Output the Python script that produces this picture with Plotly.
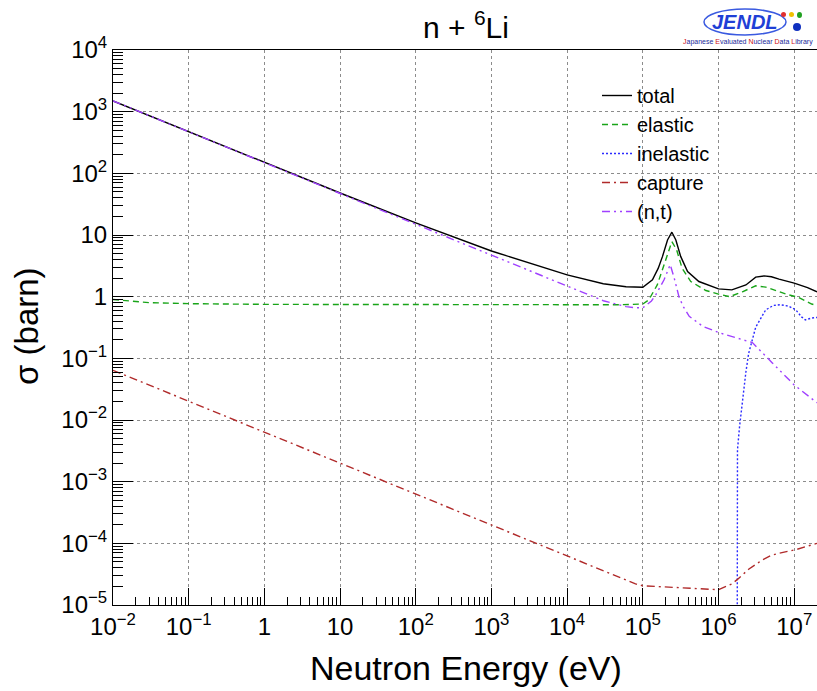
import plotly.graph_objects as go

# ---------------- data ----------------
total_E = [1e-2, 1e-1, 1, 10, 100, 1e3, 1e4, 3e4, 6e4, 1e5, 1.34e5, 1.6e5, 1.82e5,
           2.12e5, 2.42e5, 2.73e5, 3.16e5, 3.9e5, 5.5e5, 1e6, 1.5e6, 2.3e6, 3.1e6,
           4e6, 5e6, 6.3e6, 1e7, 1.5e7, 2e7]
total_xs = [1496, 474, 150, 48, 15.7, 5.5, 2.25, 1.62, 1.45, 1.42, 1.87, 2.9, 4.5,
            8.3, 11.1, 8.3, 4.5, 2.55, 1.76, 1.34, 1.29, 1.55, 2.07, 2.17, 2.1,
            1.92, 1.66, 1.4, 1.2]

elastic_E = [1e-2, 3e-2, 1e-1, 1, 1e2, 1e4, 5e4, 1e5, 1.2e5, 1.55e5, 1.9e5, 2.24e5,
             2.42e5, 2.79e5, 3.3e5, 4.3e5, 6.8e5, 1e6, 1.4e6, 2.07e6, 3.1e6, 4.2e6,
             7.8e6, 1.15e7, 1.7e7, 2e7]
elastic_xs = [0.9, 0.8, 0.77, 0.75, 0.745, 0.74, 0.74, 0.76, 0.89, 1.55, 3.3, 6.1,
              7.8, 5.8, 2.9, 1.76, 1.26, 1.1, 1.0, 1.2, 1.5, 1.43, 1.1, 0.97, 0.76, 0.72]

inelastic_E = [1.76e6, 1.78e6, 1.9e6, 2.07e6, 2.3e6, 2.5e6, 3.1e6, 4.2e6, 5.3e6,
               6.6e6, 8.5e6, 1.05e7, 1.25e7, 1.4e7, 1.7e7, 2e7]
inelastic_xs = [1e-7, 3.3e-3, 8e-3, 0.021, 0.06, 0.12, 0.32, 0.61, 0.72, 0.74, 0.7,
                0.61, 0.47, 0.42, 0.45, 0.46]

capture_E = [1e-2, 1e4, 8e4, 1e5, 2e5, 5e5, 1e6, 1.5e6, 1.78e6, 2.5e6, 3.8e6, 5e6,
             6.3e6, 1.05e7, 2e7]
capture_xs = [0.064, 6.3e-5, 2.2e-5, 2.05e-5, 1.95e-5, 1.85e-5, 1.77e-5, 2.2e-5,
              2.6e-5, 3.8e-5, 5.4e-5, 6.4e-5, 6.9e-5, 7.9e-5, 1.0e-4]

nt_E = [1e-2, 1e-1, 1, 10, 100, 1e3, 1e4, 3e4, 6e4, 8e4, 1e5, 1.3e5, 1.48e5, 1.9e5,
        2.3e5, 2.6e5, 3.0e5, 3.4e5, 4.1e5, 6.2e5, 1.02e6, 1.87e6, 2.8e6, 5.1e6,
        1e7, 2e7]
nt_xs = [1495, 473, 149.5, 47.3, 14.95, 4.73, 1.5, 0.86, 0.69, 0.66, 0.66, 0.85,
         1.07, 1.86, 3.3, 2.0, 1.0, 0.7, 0.48, 0.33, 0.26, 0.21, 0.18, 0.085,
         0.037, 0.019]

x_tick_vals = [1e-2, 1e-1, 1, 10, 1e2, 1e3, 1e4, 1e5, 1e6, 1e7]
x_tick_text = ["10<sup>\u22122</sup>", "10<sup>\u22121</sup>", "1", "10",
               "10<sup>2</sup>", "10<sup>3</sup>", "10<sup>4</sup>",
               "10<sup>5</sup>", "10<sup>6</sup>", "10<sup>7</sup>"]
y_tick_vals = [1e-5, 1e-4, 1e-3, 1e-2, 1e-1, 1, 10, 1e2, 1e3, 1e4]
y_tick_text = ["10<sup>\u22125</sup>", "10<sup>\u22124</sup>", "10<sup>\u22123</sup>",
               "10<sup>\u22122</sup>", "10<sup>\u22121</sup>", "1", "10",
               "10<sup>2</sup>", "10<sup>3</sup>", "10<sup>4</sup>"]

# ---------------- figure ----------------
FONT = "Liberation Sans, Arial, Helvetica, sans-serif"
FW, FH = 817, 691
L, T, W, H = 113, 50, 704, 555           # plot area in pixels


def px(x):
    return (x - L) / W


def py(y):
    return (T + H - y) / H


fig = go.Figure()

fig.add_trace(go.Scatter(x=total_E, y=total_xs, name="total", mode="lines",
                         line=dict(color="black", width=1.4)))
fig.add_trace(go.Scatter(x=elastic_E, y=elastic_xs, name="elastic", mode="lines",
                         line=dict(color="#19a419", width=1.4, dash="6px,4px")))
fig.add_trace(go.Scatter(x=inelastic_E, y=inelastic_xs, name="inelastic", mode="lines",
                         line=dict(color="#2b2bff", width=1.4, dash="2px,2px")))
fig.add_trace(go.Scatter(x=capture_E, y=capture_xs, name="capture", mode="lines",
                         line=dict(color="#b02a2a", width=1.4, dash="8px,4px,2px,4px")))
fig.add_trace(go.Scatter(x=nt_E, y=nt_xs, name="(n,t)", mode="lines",
                         line=dict(color="#a040ff", width=1.4,
                                   dash="8px,4px,2px,4px,2px,4px")))

minor_x = [m * 10 ** d for d in range(-2, 8) for m in range(2, 10) if m * 10 ** d <= 2e7]
minor_y = [m * 10 ** d for d in range(-5, 4) for m in range(2, 10)]

fig.update_xaxes(type="log", range=[-2, 7.30103], automargin=False,
                 tickmode="array", tickvals=x_tick_vals, ticktext=x_tick_text,
                 ticks="inside", ticklen=17, tickwidth=1, tickcolor="black",
                 showline=True, linecolor="black", linewidth=1, mirror=True,
                 showgrid=True, gridcolor="#8c8c8c", griddash="dot", gridwidth=1,
                 tickfont=dict(family=FONT, size=24, color="black"),
                 minor=dict(tickmode="array", tickvals=minor_x, ticks="inside",
                            ticklen=8, tickcolor="black", showgrid=False),
                 zeroline=False)
fig.update_yaxes(type="log", range=[-5, 4], automargin=False,
                 tickmode="array", tickvals=y_tick_vals, ticktext=y_tick_text,
                 ticks="inside", ticklen=20, tickwidth=1, tickcolor="black",
                 showline=True, linecolor="black", linewidth=1, mirror=False,
                 showgrid=True, gridcolor="#8c8c8c", griddash="dot", gridwidth=1,
                 tickfont=dict(family=FONT, size=24, color="black"),
                 ticklabelstandoff=0,
                 minor=dict(tickmode="array", tickvals=minor_y, ticks="inside",
                            ticklen=10, tickcolor="black", showgrid=False),
                 zeroline=False)

fig.update_layout(
    width=FW, height=FH,
    margin=dict(l=L, r=FW - L - W, t=T, b=FH - T - H, autoexpand=False),
    paper_bgcolor="white", plot_bgcolor="white",
    font=dict(family=FONT, color="black"),
    title=dict(text="n + <sup>6</sup>Li", x=466 / FW, xref="container",
               xanchor="center", y=1 - 27 / FH, yref="container", yanchor="middle",
               font=dict(family=FONT, size=30, color="black")),
    showlegend=True,
    legend=dict(x=px(597), y=py(76), xanchor="left", yanchor="top",
                bgcolor="rgba(0,0,0,0)", borderwidth=0,
                font=dict(family=FONT, size=20, color="black"),
                tracegroupgap=0),
    annotations=[
        dict(text="Neutron Energy (eV)", xref="paper", yref="paper", x=px(466), y=py(668),
             xanchor="center", yanchor="middle", showarrow=False,
             font=dict(family=FONT, size=34, color="black")),
        dict(text="\u03c3 (barn)", xref="paper", yref="paper", x=px(26), y=py(326),
             xanchor="center", yanchor="middle", textangle=-90, showarrow=False,
             font=dict(family=FONT, size=33, color="black")),
        dict(text="<b><i>JENDL</i></b>", xref="paper", yref="paper",
             x=px(745), y=py(22), xanchor="center", yanchor="middle",
             showarrow=False, font=dict(family=FONT, size=20, color="#1f3fd6")),
        dict(text=("<span style='color:#d01010'>J</span>apanese "
                   "<span style='color:#d01010'>E</span>valuated "
                   "<span style='color:#d01010'>N</span>uclear "
                   "<span style='color:#d01010'>D</span>ata "
                   "<span style='color:#d01010'>L</span>ibrary"),
             xref="paper", yref="paper", x=px(815), y=py(42),
             xanchor="right", yanchor="middle", showarrow=False,
             font=dict(family=FONT, size=7, color="#1a2a9a")),
    ],
    shapes=[
        dict(type="circle", xref="paper", yref="paper",
             x0=px(704), x1=px(786), y0=py(35), y1=py(9),
             line=dict(color="#3a5ae0", width=1.5)),
        dict(type="circle", xref="paper", yref="paper",
             x0=px(781), x1=px(786), y0=py(17), y1=py(12),
             fillcolor="#e03030", line=dict(width=0)),
        dict(type="circle", xref="paper", yref="paper",
             x0=px(789), x1=px(794), y0=py(17), y1=py(12),
             fillcolor="#f0c000", line=dict(width=0)),
        dict(type="circle", xref="paper", yref="paper",
             x0=px(797), x1=px(802), y0=py(18), y1=py(12),
             fillcolor="#20a020", line=dict(width=0)),
        dict(type="circle", xref="paper", yref="paper",
             x0=px(793), x1=px(801), y0=py(31), y1=py(23),
             fillcolor="#1030c0", line=dict(width=0)),
    ],
)

fig.write_html("out.html", config={"displayModeBar": False},
               post_script="document.body.style.margin='0';"
                           "document.body.style.overflow='hidden';")
